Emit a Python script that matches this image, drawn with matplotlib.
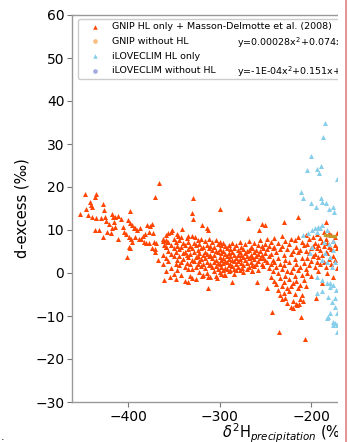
import matplotlib
matplotlib.use("Agg")
import matplotlib.pyplot as plt
from matplotlib.patches import Rectangle
from matplotlib.lines import Line2D
import numpy as np

plt.rcParams['font.family'] = ['DejaVu Sans']

# ---------------- data ----------------
gnip_left = [
    (-453, 13.7), (-447, 18.3), (-441, 16.6), (-446, 15.0), (-440, 15.8), (-439, 15.3), (-436, 17.7),
    (-435, 18.3), (-444, 13.5), (-439, 13.1), (-435, 12.7), (-436, 10.0), (-432, 10.0), (-427, 16.0),
    (-426.6, 14.6), (-429, 12.7), (-425, 13.1), (-427, 8.4), (-423, 9.6), (-424, 12.2), (-420.5, 11.3),
    (-418, 13.7), (-416.7, 13.0), (-414, 13.1), (-411, 13.3), (-415.7, 11.9), (-414.6, 10.8),
    (-417.5, 10.5), (-419, 9.2), (-411, 8.0), (-408, 12.5), (-406, 10.7), (-404.7, 9.5), (-402, 9.0),
    (-397.5, 14.4), (-400.3, 12.3), (-397.5, 11.6), (-395.6, 11.2), (-393.8, 10.4), (-398.6, 8.4),
    (-396.4, 8.0), (-395.6, 7.3), (-399.3, 6.1), (-397.5, 5.9), (-401, 3.8), (-392.7, 10.4),
    (-390.2, 10.0), (-386.6, 10.5), (-392, 8.4), (-388.3, 8.0), (-385.5, 8.0), (-384, 8.7),
    (-381.7, 9.0), (-379.2, 11.2), (-375.6, 11.0), (-373.8, 11.3), (-377.5, 9.6), (-373, 9.2),
    (-383, 7.3), (-380.3, 6.9), (-377.5, 6.9), (-372, 7.3), (-369.4, 6.9), (-373.8, 5.9),
    (-370.2, 5.6), (-362, 8.0), (-359, 7.7), (-357, 7.3), (-371, 4.8), (-367, 3.0), (-361, 6.5),
    (-358.5, 6.1), (-360.6, -1.6), (-366, 21.0), (-370.5, 17.6),
]

gnip_band = [
    (-362, 7.5), (-362, 4.2), (-362, 2.0), (-359, 8.8), (-359, 6.0), (-359, 3.5), (-359, 0.5),
    (-356, 7.1), (-356, 5.2), (-356, 2.8), (-353, 9.5), (-353, 6.6), (-353, 4.5), (-353, 1.2),
    (-350, 8.0), (-350, 5.8), (-350, 3.9), (-350, -0.2), (-348, 7.2), (-348, 4.8), (-348, 2.1),
    (-346, 9.1), (-346, 6.3), (-346, 3.0), (-346, 0.8), (-344, 7.7), (-344, 5.5), (-344, 4.0),
    (-344, 1.9), (-342, 8.4), (-342, 6.1), (-342, 2.6), (-342, -0.5), (-340, 7.0), (-340, 4.7),
    (-340, 3.2), (-338, 6.5), (-338, 5.0), (-338, 1.5), (-338, -1.8), (-336, 8.2), (-336, 4.1),
    (-336, 2.4), (-334, 7.3), (-334, 5.6), (-334, 3.7), (-334, 0.9), (-332, 6.2), (-332, 4.4),
    (-332, 2.0), (-332, -0.8), (-330, 8.6), (-330, 5.9), (-330, 3.1), (-330, 1.0), (-328, 7.0),
    (-328, 4.9), (-328, 2.7), (-326, 6.4), (-326, 3.8), (-326, 1.4), (-326, -1.5), (-324, 7.7),
    (-324, 5.3), (-324, 4.0), (-324, 2.2), (-322, 6.8), (-322, 4.6), (-322, 2.9), (-322, 0.3),
    (-320, 8.0), (-320, 5.7), (-320, 3.3), (-320, 1.6), (-318, 6.1), (-318, 4.2), (-318, 2.0),
    (-318, -0.4), (-316, 7.4), (-316, 5.0), (-316, 3.6), (-316, 1.1), (-314, 6.6), (-314, 4.5),
    (-314, 2.5), (-314, 0.0), (-312, 7.9), (-312, 5.8), (-312, 3.9), (-312, 1.8), (-310, 6.3),
    (-310, 4.1), (-310, 2.2), (-310, -1.0), (-308, 7.1), (-308, 5.4), (-308, 3.4), (-308, 1.3),
    (-306, 6.0), (-306, 4.3), (-306, 2.6), (-306, 0.5), (-304, 7.6), (-304, 5.1), (-304, 3.0),
    (-304, 1.7), (-304, -0.6), (-302, 6.7), (-302, 4.8), (-302, 2.4), (-302, 0.9), (-300, 7.2),
    (-300, 5.5), (-300, 3.8), (-300, 2.0), (-300, 0.2), (-298, 6.4), (-298, 4.6), (-298, 3.1),
    (-298, 1.5), (-298, -0.3), (-296, 7.0), (-296, 5.2), (-296, 3.5), (-296, 2.3), (-296, 0.7),
    (-294, 6.2), (-294, 4.4), (-294, 2.9), (-294, 1.2), (-294, -0.5), (-292, 5.8), (-292, 4.0),
    (-292, 2.5), (-292, 1.0), (-290, 6.6), (-290, 4.7), (-290, 3.3), (-290, 1.9), (-290, 0.4),
    (-288, 5.5), (-288, 3.9), (-288, 2.2), (-288, 0.8), (-286, 6.9), (-286, 4.9), (-286, 3.0),
    (-286, 1.6), (-284, 5.9), (-284, 4.2), (-284, 2.7), (-284, 1.0), (-284, -0.2), (-282, 6.4),
    (-282, 3.6), (-282, 2.0), (-280, 5.3), (-280, 4.3), (-280, 2.8), (-280, 1.3), (-278, 7.3),
    (-278, 5.0), (-278, 3.2), (-278, 0.6), (-276, 6.0), (-276, 4.1), (-276, 2.4), (-274, 5.6),
    (-274, 3.7), (-274, 1.8), (-274, 0.2), (-272, 6.8), (-272, 4.6), (-272, 3.0), (-270, 5.2),
    (-270, 3.9), (-270, 2.3), (-270, 0.9), (-268, 7.5), (-268, 5.4), (-268, 3.5), (-268, 1.4),
    (-266, 6.1), (-266, 4.2), (-266, 2.6), (-264, 5.7), (-264, 3.8), (-264, 1.9), (-264, 0.5),
    (-262, 6.9), (-262, 4.8), (-262, 3.3), (-262, 1.7), (-260, 5.4), (-260, 4.0), (-260, 2.1),
    (-258, 6.6), (-258, 4.4), (-258, 2.9), (-258, 0.8), (-256, 7.7), (-256, 5.2), (-256, 3.6),
    (-254, 6.3), (-254, 4.1), (-254, 2.2), (-252, 5.8), (-252, 3.5), (-252, 1.6), (-250, 6.7),
    (-250, 4.7), (-250, 3.0), (-248, 7.9), (-248, 5.5), (-248, 2.5), (-246, 6.2), (-246, 4.0),
    (-246, 1.2),
]

gnip_right = [
    (-244, 7.2), (-244, 4.5), (-244, 2.0), (-244, -1.0), (-242, 5.8), (-242, 3.1), (-242, 0.4),
    (-240, 8.1), (-240, 6.0), (-240, 2.6), (-240, -1.8), (-238, 4.9), (-238, 1.3), (-238, -2.5),
    (-236, 7.0), (-236, 3.5), (-236, 0.0), (-236, -4.0), (-234, 5.6), (-234, 2.2), (-234, -1.2),
    (-234, -5.2), (-232, 8.5), (-232, 6.3), (-232, 0.9), (-232, -3.0), (-232, -6.0), (-230, 4.3),
    (-230, 1.8), (-230, -2.0), (-230, -4.6), (-228, 7.4), (-228, 3.0), (-228, -0.6), (-228, -5.7),
    (-226, 5.5), (-226, 0.5), (-226, -3.4), (-226, -7.0), (-224, 6.7), (-224, 2.6), (-224, -1.5),
    (-224, -4.2), (-222, 8.0), (-222, 4.4), (-222, 0.2), (-222, -3.0), (-222, -8.0), (-220, 5.1),
    (-220, 1.1), (-220, -2.4), (-220, -6.4), (-218, 7.6), (-218, 3.3), (-218, -0.8), (-218, -4.8),
    (-216, 6.0), (-216, 2.0), (-216, -1.9), (-216, -7.2), (-214, 8.3), (-214, 4.8), (-214, 0.6),
    (-214, -3.6), (-212, 5.3), (-212, 1.5), (-212, -2.7), (-212, -6.0), (-210, 7.1), (-210, 3.6),
    (-210, -0.4), (-210, -5.0), (-208, 6.4), (-208, 2.4), (-208, -1.6), (-206, 8.8), (-206, 5.2),
    (-206, 1.0), (-206, -3.1), (-204, 6.8), (-204, 3.4), (-204, 0.0), (-202, 7.9), (-202, 4.7),
    (-202, 1.9), (-200, 5.9), (-200, 2.8), (-200, -0.8), (-198, 8.4), (-198, 6.2), (-198, 3.9),
    (-196, 7.0), (-196, 4.5), (-196, 1.4), (-194, 9.0), (-194, 5.7), (-194, 2.6), (-192, 6.5),
    (-192, 3.7), (-192, 0.5), (-190, 8.1), (-190, 5.3), (-190, 2.1), (-188, 7.3), (-188, 4.1),
    (-188, -2.3), (-186, 9.6), (-186, 6.3), (-186, 2.6), (-184, 8.0), (-184, 5.0), (-184, 1.5),
    (-182, 7.0), (-182, 4.6), (-182, -0.1), (-180, 9.2), (-180, 6.0), (-180, 3.3), (-178, 8.8),
    (-178, 5.5), (-178, 2.0), (-176, 7.5), (-176, 4.0), (-176, -0.9), (-174, 8.4), (-174, 6.5),
    (-174, 3.0), (-172, 9.3), (-172, 5.8), (-172, 1.2),
]

gnip_outliers = [
    (-329, 17.4), (-329.7, 14.0), (-329, 12.5), (-299, 14.8), (-268.5, 12.7), (-319.5, 11.2),
    (-314, 10.4), (-312.3, 10.0), (-341.3, 10.2), (-352.3, 10.0), (-356, 9.2), (-345, 8.7),
    (-334, 8.7), (-326.8, 8.4), (-214, 13.1), (-229.5, 11.8), (-254, 11.4), (-250, 11.2),
    (-256.6, 10.0), (-183.6, 11.8), (-313, -3.6), (-334, -2.2), (-330.4, -1.1), (-347, -1.4),
    (-354, -0.9), (-242.6, -9.1), (-235, -13.7), (-206.6, -15.3), (-211, -10.2), (-194.5, -5.8),
    (-219.7, -8.1), (-286.7, -2.2), (-303, -1.1), (-259.5, -2.0), (-248.4, -3.6), (-319.5, -0.6),
    (-313, -0.9), (-294.7, -0.5), (-282, 0.7), (-275, 1.1), (-264, 0.5), (-213, -7.2),
    (-215, -7.4), (-209, -6.5),
]

ilove_hl = [
    (-185, 34.9), (-187, 31.6), (-200.5, 27.3), (-204.7, 24.0), (-193.8, 24.3), (-189, 24.9),
    (-191, 23.3), (-172, 21.8), (-211, 18.9), (-209, 17.4), (-199.7, 16.2), (-194.6, 15.4),
    (-189.4, 17.4), (-188.3, 16.6), (-183.6, 16.3), (-180.3, 15.0), (-174.9, 14.3), (-175.6, 15.4),
    (-208.4, 8.8), (-203, 9.2), (-199.3, 10.0), (-195.6, 10.4), (-192, 10.8), (-188.4, 11.2),
    (-193.8, 9.6), (-190, 10.4), (-183, 10.0), (-184.7, 4.6), (-179.2, 3.8), (-175.6, 5.3),
    (-173.8, 2.6), (-183, 2.6), (-177.4, 1.5), (-188.4, 3.0), (-199.3, 6.1), (-201, 4.6),
    (-176, 7.5), (-180, 6.8), (-186, 7.2), (-193.8, -0.9), (-188.4, -1.6), (-183, -2.4),
    (-179.2, -3.2), (-175.6, -2.8), (-172.7, -4.0), (-181, -5.5), (-177.4, -6.7), (-174, -7.8),
    (-172, -9.4), (-179.2, -9.4), (-183, -10.5), (-175.6, -11.3), (-172, -12.1), (-172, -13.7),
    (-193.8, -4.7), (-188.4, -4.3), (-174, -5.8), (-179, -2.3), (-176, -12.0), (-181, -10.2),
    (-174, -11.7),
]

# polynomial fit of "GNIP without HL" (x^2, x, const); constant estimated
fit_coef = [0.00028, 0.074, 12.85]
fit_xrange = [-186, -100]

labels = ["GNIP HL only + Masson-Delmotte et al. (2008)", "GNIP without HL",
          "iLOVECLIM HL only", "iLOVECLIM without HL"]
equations = ["y=0.00028x$^2$+0.074x+12.85", "y=-1E-04x$^2$+0.151x+"]

xticks = [-400, -300, -200]
yticks = [-30, -20, -10, 0, 10, 20, 30, 40, 50, 60]

# ---------------- figure ----------------
W, H = 348, 442
fig = plt.figure(figsize=(W / 100, H / 100), dpi=100)
ax = fig.add_axes([72 / W, 40 / H, 265 / W, 387 / H])

c_gnip = '#ff4500'
c_gnip_no = '#f7be83'
c_ilo = '#87ceeb'
c_ilo_no = '#a3abdf'

gn = np.array(gnip_left + gnip_band + gnip_right + gnip_outliers)
il = np.array(ilove_hl)

ax.scatter(gn[:, 0], gn[:, 1], marker='^', s=13, color=c_gnip, linewidths=0, zorder=3, label=labels[0])
ax.scatter([], [], marker='o', s=14, color=c_gnip_no, linewidths=0, label=labels[1])
ax.scatter(il[:, 0], il[:, 1], marker='^', s=13, color=c_ilo, linewidths=0, zorder=3, label=labels[2])
ax.scatter([], [], marker='o', s=14, color=c_ilo_no, linewidths=0, label=labels[3])

fx = np.linspace(fit_xrange[0], fit_xrange[1], 50)
fy = np.polyval(fit_coef, fx)
ax.plot(fx, fy, color='#c49a2c', lw=2.4, zorder=4, solid_capstyle='butt')

ax.set_xticks(xticks)
ax.set_yticks(yticks)
ax.set_xlim(-461.2, -171.6)
ax.set_ylim(-30, 60)
ax.tick_params(labelsize=10, length=3.5, width=0.8, color='#777777', pad=2)
for side in ['left', 'bottom', 'top']:
    ax.spines[side].set_color('#999999')
    ax.spines[side].set_linewidth(1.0)
ax.spines['right'].set_visible(False)

ax.set_ylabel('d-excess (‰)', fontsize=10.5, labelpad=4)
fig.text(222 / W, 1 - 433 / H, r'$\delta^2$H$_{\mathit{precipitation}}$ (‰)', fontsize=10.5,
         ha='left', va='center')

leg = ax.legend(loc='upper left', bbox_to_anchor=(6 / 265, (402 - 19) / 387, 1.3, 0), mode='expand',
                borderaxespad=0, fontsize=6.8, scatterpoints=1, borderpad=0.35,
                handlelength=3.0, handletextpad=0.2, labelspacing=0.6, markerscale=0.9,
                frameon=True, fancybox=True, edgecolor='#cccccc', framealpha=1)
leg.set_zorder(5)

ax.text((237 - 72) / 265, (402 - 42.7) / 387, equations[0], transform=ax.transAxes, fontsize=6.8,
        va='center', ha='left', zorder=6)
ax.text((237 - 72) / 265, (402 - 71.7) / 387, equations[1], transform=ax.transAxes, fontsize=6.8,
        va='center', ha='left', zorder=6)

# crop edge as in the reference
fig.add_artist(Rectangle((338 / W, 0), 10 / W, 1, transform=fig.transFigure, facecolor='white',
                         edgecolor='none', zorder=20))
fig.add_artist(Line2D([345.5 / W, 345.5 / W], [0, 1], transform=fig.transFigure, color='#e08080',
                      lw=1.2, zorder=21))
fig.text(1 / W, 1 - 437 / H, '.', fontsize=8, ha='left', va='center')

fig.savefig('out.png', dpi=100)
